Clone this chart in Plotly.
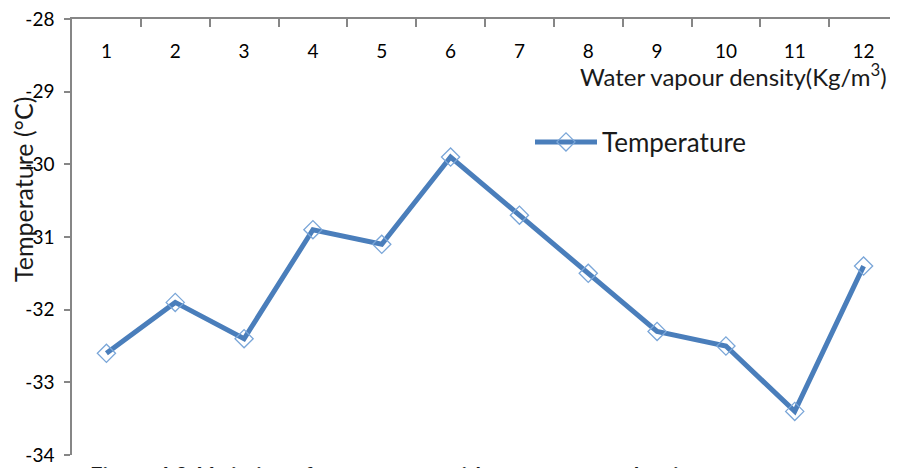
import plotly.graph_objects as go

categories = ["1", "2", "3", "4", "5", "6", "7", "8", "9", "10", "11", "12"]
temperature = [-32.6, -31.9, -32.4, -30.9, -31.1, -29.9, -30.7, -31.5, -32.3, -32.5, -33.4, -31.4]
y_ticks = [-34, -33, -32, -31, -30, -29, -28]

FONT = "Lato"
OFF = 8  # page body margin
W, H = 898 - OFF, 468 - OFF
ml, mr, mt, mb = 72 - OFF, 0, 19 - OFF, 13
ph = H - mt - mb
pw = W - ml - mr

def py(pix):  # screenshot pixel y -> paper y
    return 1 - (pix - OFF - mt) / ph

def px(pix):  # screenshot pixel x -> paper x
    return (pix - OFF - ml) / pw

fig = go.Figure()
fig.add_trace(go.Scatter(
    x=categories, y=temperature, mode="lines+markers", name="Temperature",
    line=dict(color="#4A7EBB", width=5),
    marker=dict(symbol="diamond-open", size=14, color="#7AA6D8", line=dict(width=1.3)),
))

fig.update_layout(
    width=W, height=H,
    margin=dict(l=ml, r=mr, t=mt, b=mb, autoexpand=False),
    plot_bgcolor="white", paper_bgcolor="white",
    font=dict(family=FONT, size=19, color="#000000"),
    showlegend=True,
    legend=dict(x=px(530), y=py(142), xanchor="left", yanchor="middle",
                itemwidth=62,
                font=dict(size=26, color="#1a1a1a"), bgcolor="rgba(0,0,0,0)"),
    xaxis=dict(type="category", side="top", range=[-0.5, 11.5], automargin=False,
               showline=True, linecolor="#868686", linewidth=1.5,
               ticks="inside", tickson="boundaries", ticklen=8, tickwidth=1.5,
               tickcolor="#868686", layer="above traces",
               ticklabelposition="outside", ticklabelstandoff=-48,
               ticklabeloverflow="allow",
               showgrid=False, zeroline=False, tickfont=dict(size=19)),
    yaxis=dict(range=[-34, -28], tickvals=y_ticks, ticktext=[str(v) for v in y_ticks],
               automargin=False, ticklabeloverflow="allow",
               showline=True, linecolor="#868686", linewidth=1.5,
               ticks="outside", ticklen=6, tickwidth=1.5, tickcolor="#868686",
               ticklabelstandoff=6,
               showgrid=False, zeroline=False, tickfont=dict(size=19)),
)

fig.add_annotation(text="Temperature (°C)", textangle=-90, xref="paper", yref="paper",
                   x=px(23), y=py(190), xanchor="center", yanchor="middle",
                   showarrow=False, font=dict(size=25, color="#1a1a1a"))
fig.add_annotation(text="Water vapour density(Kg/m<sup>3</sup>)", xref="paper", yref="paper",
                   x=px(889), y=py(75), xanchor="right", yanchor="middle",
                   showarrow=False, font=dict(size=24, color="#1a1a1a"))
fig.add_annotation(text="<b>Figure 4.3: Variation of temperature with water vapour density</b>",
                   xref="paper", yref="paper",
                   x=px(88), y=py(460), xanchor="left", yanchor="top",
                   showarrow=False, font=dict(size=22, color="#1a1a1a"))

fig.write_html("out.html")
